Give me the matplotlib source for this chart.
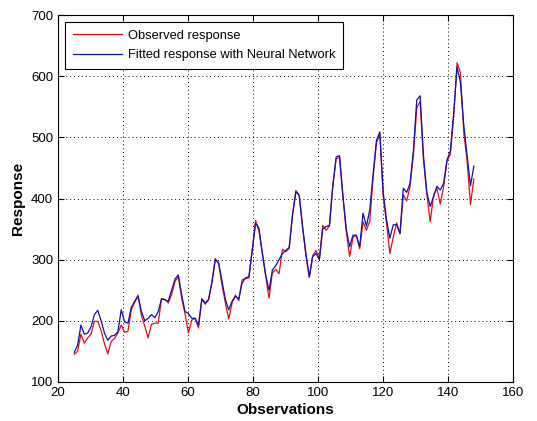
import numpy as np
import matplotlib
matplotlib.use("Agg")
import matplotlib.pyplot as plt

plt.rcParams['font.family'] = ['Liberation Sans', 'DejaVu Sans']

# ------- DATA -------
observed = [145, 150, 178, 163, 172, 178, 199, 199, 184, 162, 146, 166,
            171, 180, 193, 181, 183, 218, 230, 242, 209, 191, 172, 194,
            196, 196, 236, 235, 229, 243, 264, 272, 237, 211, 180, 201,
            204, 188, 235, 227, 234, 264, 302, 293, 259, 229, 203, 229,
            242, 233, 267, 269, 270, 315, 364, 347, 312, 274, 237, 278,
            284, 277, 317, 313, 318, 374, 413, 405, 355, 306, 271, 306,
            315, 301, 356, 348, 355, 422, 465, 467, 404, 347, 305, 336,
            340, 318, 362, 348, 363, 435, 491, 505, 404, 359, 310, 337,
            360, 342, 406, 396, 420, 472, 548, 559, 463, 407, 362, 405,
            417, 391, 419, 461, 472, 535, 622, 606, 508, 461, 390, 432]

fitted = [148, 160, 193, 178, 180, 190, 210, 217, 200, 180, 168, 175,
          176, 182, 218, 198, 196, 222, 232, 240, 215, 200, 204, 210,
          205, 215, 236, 234, 232, 250, 268, 275, 242, 215, 212, 204,
          204, 193, 236, 229, 235, 262, 300, 295, 265, 235, 218, 232,
          240, 236, 262, 270, 272, 315, 359, 352, 310, 275, 250, 283,
          290, 300, 310, 315, 320, 372, 411, 405, 352, 310, 272, 305,
          310, 300, 350, 354, 356, 420, 468, 470, 405, 350, 321, 340,
          340, 321, 376, 355, 381, 440, 495, 509, 410, 365, 335, 357,
          357, 343, 417, 410, 425, 478, 561, 568, 470, 410, 387, 403,
          420, 414, 425, 463, 478, 540, 615, 590, 520, 470, 421, 453]

# observation axis runs from 25 to 148
obs = np.linspace(25, 148, len(observed))

# ------- PLOT -------
fig = plt.figure(figsize=(5.37, 4.21), dpi=100)
ax = fig.add_axes([0.108, 0.093, 0.847, 0.871])

ax.plot(obs, observed, color="#e01010", linewidth=0.9, label="Observed response")
ax.plot(obs, fitted, color="#1010b0", linewidth=0.9, label="Fitted response with Neural Network")

ax.set_xlim(20, 160)
ax.set_ylim(100, 700)
ax.set_xticks(range(20, 161, 20))
ax.set_yticks(range(100, 701, 100))
ax.grid(True, color="black", linestyle=(0, (1, 3)), linewidth=0.7)
ax.tick_params(direction="in", top=True, right=True, labelsize=9.5, length=4)
for s in ax.spines.values():
    s.set_linewidth(0.8)

ax.set_xlabel("Observations", fontsize=11, fontweight="bold", labelpad=3)
ax.set_ylabel("Response", fontsize=11, fontweight="bold", labelpad=4)

leg = ax.legend(loc="upper left", bbox_to_anchor=(0.015, 0.982), fontsize=9.3,
                frameon=True, fancybox=False, edgecolor="black", framealpha=1,
                handlelength=3.8, borderaxespad=0, labelspacing=0.6,
                borderpad=0.6, handletextpad=0.5)
leg.get_frame().set_linewidth(0.8)

plt.savefig("out.png", dpi=100)
